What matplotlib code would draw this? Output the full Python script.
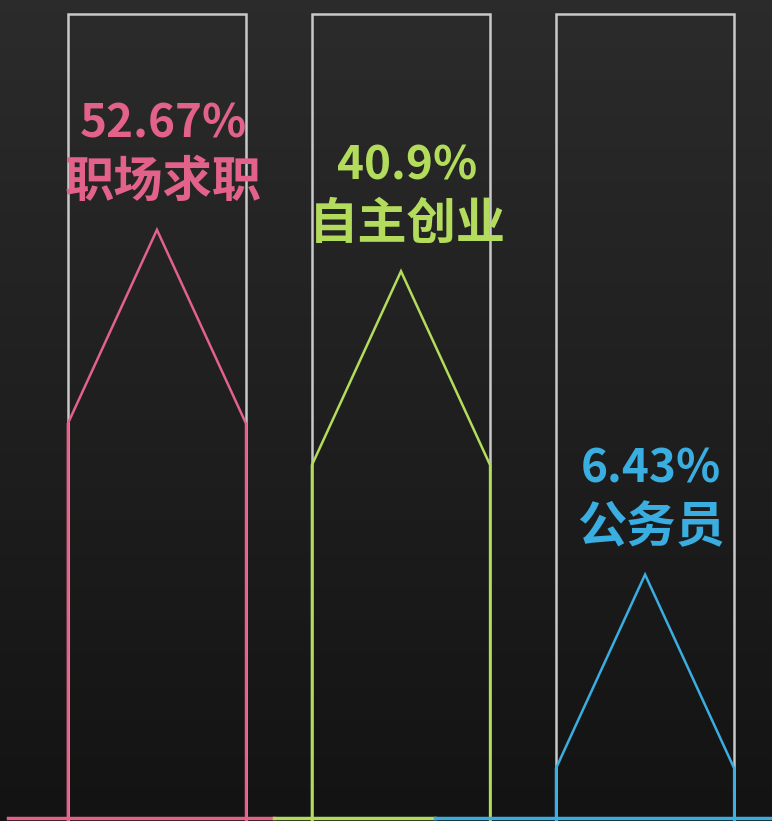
import numpy as np
import matplotlib.pyplot as plt
from matplotlib.patches import Rectangle

plt.rcParams['font.family'] = ['Noto Sans CJK SC', 'DejaVu Sans']

# data
names = ['职场求职', '自主创业', '公务员']
values = [52.67, 40.9, 6.43]
labels = ['52.67%', '40.9%', '6.43%']
colors = ['#e2628a', '#b4dc5c', '#3aaee0']

fig = plt.figure(figsize=(7.72, 8.21), dpi=100)
ax = fig.add_axes([0, 0, 1, 1])
ax.set_yscale('log')
ax.set_xlim(-0.643, 2.52)
ax.set_ylim(1.43, 214)
ax.axis('off')

# dark background, a bit lighter at the top
grad = np.linspace(0.17, 0.075, 256).reshape(-1, 1)
bg = np.dstack([grad, grad, grad * 1.02])
ax.imshow(bg, extent=[0, 1, 0, 1], transform=ax.transAxes, aspect='auto', zorder=0)

w = 0.73
tri = 0.236
trans = ax.get_xaxis_transform()
fig.canvas.draw()
for i, (v, c) in enumerate(zip(values, colors)):
    ax.add_patch(Rectangle((i - w / 2, -0.1), w, 1.083, transform=trans, fill=False,
                           ec='#c9c9c9', lw=1.8, zorder=2))
    peak = ax.transAxes.inverted().transform(ax.transData.transform((i, v)))[1]
    sh = peak - tri
    ax.plot([i - w / 2, i - w / 2, i, i + w / 2, i + w / 2], [-0.1, sh, peak, sh, -0.1],
            transform=trans, color=c, lw=1.8, zorder=3, solid_joinstyle='miter')
    ax.annotate(names[i], (i, v), xytext=(6, 47), textcoords='offset pixels', ha='center',
                va='center', color=c, fontsize=35.5, fontweight='bold', zorder=4)
    ax.annotate(labels[i], (i, v), xytext=(6, 105), textcoords='offset pixels', ha='center',
                va='center', color=c, fontsize=33, fontweight='bold', zorder=4)

# coloured floor line
edges = [-0.61, 0.48, 1.14, 2.6]
for i, c in enumerate(colors):
    ax.plot([edges[i], edges[i + 1]], [0.004, 0.004], transform=trans, color=c, lw=2.5, zorder=3)

fig.savefig('out.png', dpi=100)
